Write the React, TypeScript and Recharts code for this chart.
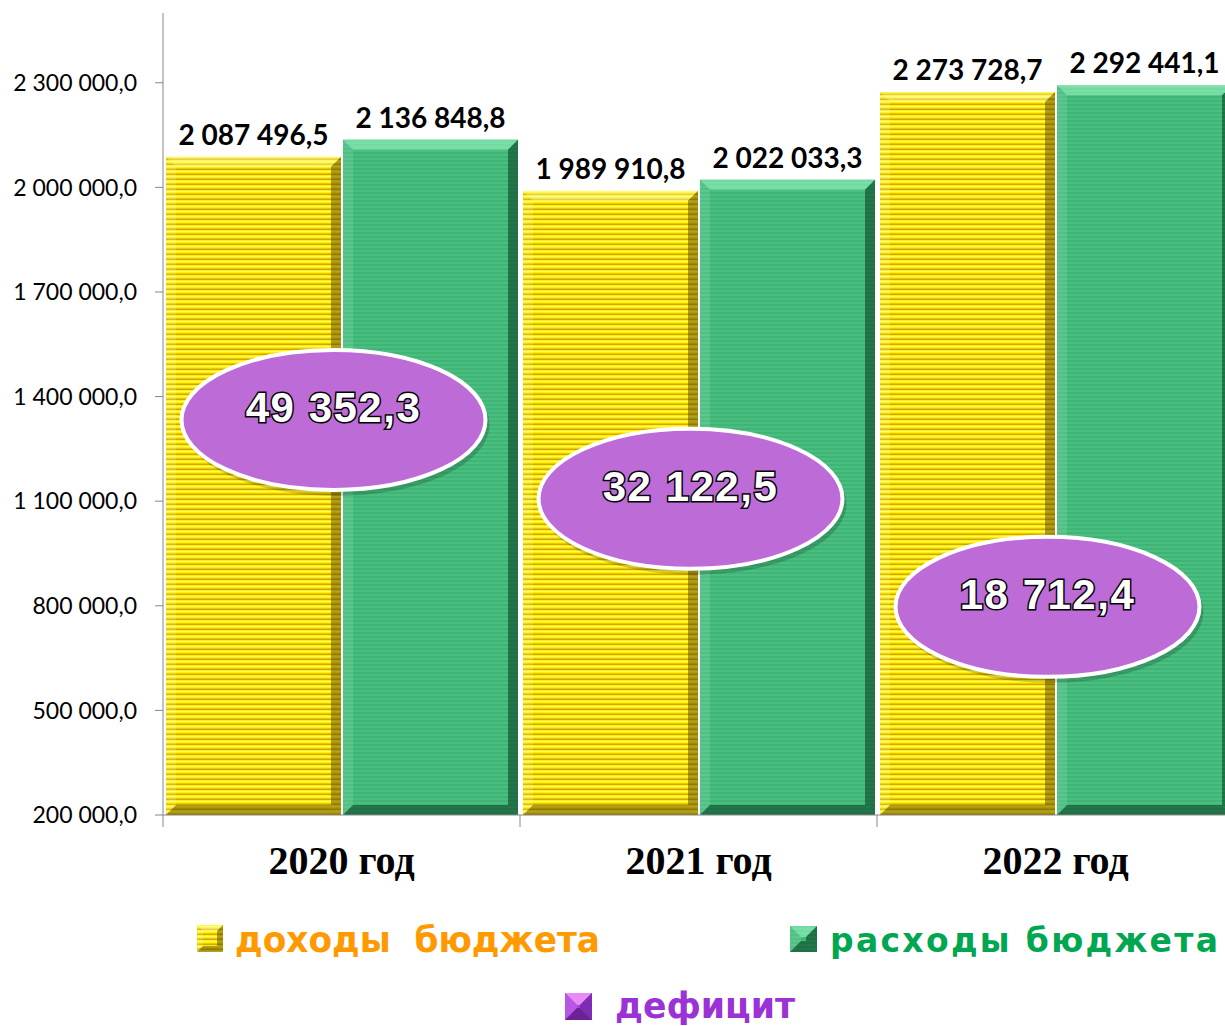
import React from 'react';
import { ComposedChart, Bar, Scatter, XAxis, YAxis, LabelList, Legend } from 'recharts';

const years = ['2020 год', '2021 год', '2022 год'];
const income = [2087496.5, 1989910.8, 2273728.7];
const expenses = [2136848.8, 2022033.3, 2292441.1];
const deficit = [49352.3, 32122.5, 18712.4];
// where the deficit callouts sit, in axis units
const deficitLabelAt = [1333000, 1107000, 797000];
const yTicks = [200000, 500000, 800000, 1100000, 1400000, 1700000, 2000000, 2300000];

const data = years.map((year, i) => ({
  year,
  income: income[i],
  expenses: expenses[i],
  deficit: deficit[i],
  deficitAt: deficitLabelAt[i],
}));

const CHART_W = 1234;
const CHART_H = 1026;
const Y_AXIS_W = 163;
const BAND = (CHART_W - Y_AXIS_W) / years.length;
const AXIS_GREY = '#868686';

const fmt = (v: number) => {
  const [int, dec] = v.toFixed(1).split('.');
  return int.replace(/\B(?=(\d{3})+(?!\d))/g, ' ') + ',' + dec;
};

const SKINS: Record<string, any> = {
  yellow: {
    fill: 'url(#stripesYellow)',
    top: 'rgba(255,255,170,0.45)',
    left: 'rgba(255,255,200,0.2)',
    right: 'rgba(90,70,0,0.5)',
    bottom: 'rgba(90,70,0,0.5)',
  },
  green: {
    fill: 'url(#stripesGreen)',
    top: 'rgba(170,255,205,0.5)',
    left: 'rgba(200,255,220,0.15)',
    right: 'rgba(0,45,20,0.5)',
    bottom: 'rgba(0,45,20,0.5)',
  },
  purple: {
    fill: '#A443DA',
    top: '#E68CF4',
    left: '#B857E6',
    right: '#7F2BB2',
    bottom: '#6C2297',
  },
};

const bevelBox = (x: number, y: number, w: number, h: number, b: number, kind: string) => {
  const s = SKINS[kind];
  return (
    <g>
      <rect x={x} y={y} width={w} height={h} fill={s.fill} />
      <polygon points={`${x},${y} ${x + w},${y} ${x + w - b},${y + b} ${x + b},${y + b}`} fill={s.top} />
      <polygon points={`${x},${y} ${x + b},${y + b} ${x + b},${y + h - b} ${x},${y + h}`} fill={s.left} />
      <polygon points={`${x + w},${y} ${x + w},${y + h} ${x + w - b},${y + h - b} ${x + w - b},${y + b}`} fill={s.right} />
      <polygon points={`${x},${y + h} ${x + w},${y + h} ${x + w - b},${y + h - b} ${x + b},${y + h - b}`} fill={s.bottom} />
    </g>
  );
};

const BevelBar = (props: any) => {
  const { x, y, width, height, kind } = props;
  if (!height || height <= 0) return null;
  const b = Math.min(10, width / 2, height / 2);
  return bevelBox(x, y, width, height, b, kind);
};

const DeficitBubble = (props: any) => {
  const { cx, cy, payload } = props;
  const ex = cx - 8;
  return (
    <g>
      <ellipse cx={ex + 3} cy={cy + 5} rx={153} ry={71} fill="rgba(0,0,0,0.18)" />
      <ellipse cx={ex} cy={cy} rx={152} ry={70} fill="#BD6BD7" stroke="#fff" strokeWidth={4} />
      <text
        x={ex}
        y={cy + 2}
        textAnchor="middle"
        fontFamily="'Liberation Sans', Arial, sans-serif"
        fontWeight="bold"
        fontSize={42}
        letterSpacing={1.5}
        fill="#fff"
        stroke="#000"
        strokeWidth={3}
        paintOrder="stroke"
      >
        {fmt(payload.deficit)}
      </text>
    </g>
  );
};

const YearTick = (props: any) => {
  const { x, y, payload, index } = props;
  return (
    <g>
      <line x1={x - BAND / 2} x2={x - BAND / 2} y1={y} y2={y + 12} stroke={AXIS_GREY} />
      {index === years.length - 1 && (
        <line x1={x + BAND / 2} x2={x + BAND / 2} y1={y} y2={y + 12} stroke={AXIS_GREY} />
      )}
      <text
        x={x}
        y={y + 59}
        textAnchor="middle"
        fontFamily="'Liberation Serif', 'Times New Roman', serif"
        fontWeight="bold"
        fontSize={40}
        fill="#000"
      >
        {payload.value}
      </text>
    </g>
  );
};

const legendFont = "'DejaVu Sans', Verdana, sans-serif";

const BudgetLegend = () => (
  <svg width={CHART_W} height={136} style={{ display: 'block' }}>
    {bevelBox(197, 35, 26, 27, 6, 'yellow')}
    <text x={235} y={62} fontFamily={legendFont} fontWeight="bold" fontSize={36} fill="#FF9900"
      textLength={365} lengthAdjust="spacingAndGlyphs" style={{ whiteSpace: 'pre' }}>
      доходы  бюджета
    </text>
    {bevelBox(790, 36, 27, 26, 11, 'green')}
    <text x={830} y={62} fontFamily={legendFont} fontWeight="bold" fontSize={33} fill="#00A650"
      textLength={388} lengthAdjust="spacing" style={{ whiteSpace: 'pre' }}>
      расходы бюджета
    </text>
    {bevelBox(565, 103, 27, 27, 12, 'purple')}
    <text x={615} y={128} fontFamily={legendFont} fontWeight="bold" fontSize={36} fill="#9B32D6"
      textLength={180} lengthAdjust="spacingAndGlyphs">
      дефицит
    </text>
  </svg>
);

export default function App() {
  return (
    <div style={{ width: 1225, height: CHART_H, overflow: 'hidden', position: 'relative', background: '#fff' }}>
      <style>{'body{margin:0;overflow:hidden}'}</style>
      <svg width={0} height={0} style={{ position: 'absolute' }}>
        <defs>
          <pattern id="stripesYellow" width={8} height={5} patternUnits="userSpaceOnUse">
            <rect width={8} height={5} fill="#FFEE00" />
            <rect y={1} width={8} height={1} fill="#FFF86A" />
            <rect y={3.6} width={8} height={1.2} fill="#C39600" />
          </pattern>
          <pattern id="stripesGreen" width={8} height={4} patternUnits="userSpaceOnUse">
            <rect width={8} height={4} fill="#3DB575" />
            <rect y={2.5} width={8} height={1} fill="#58C68A" />
          </pattern>
        </defs>
      </svg>
      <ComposedChart
        width={CHART_W}
        height={CHART_H}
        data={data}
        margin={{ top: 13, right: 0, left: 0, bottom: 0 }}
        barCategoryGap={3}
        barGap={2}
      >
        <XAxis
          dataKey="year"
          height={75}
          axisLine={{ stroke: AXIS_GREY }}
          tickLine={false}
          tickSize={0}
          tickMargin={0}
          tick={<YearTick />}
          interval={0}
        />
        <YAxis
          width={Y_AXIS_W}
          domain={[200000, 2500000]}
          ticks={yTicks}
          allowDataOverflow
          tickFormatter={fmt}
          axisLine={{ stroke: AXIS_GREY }}
          tickLine={{ stroke: AXIS_GREY }}
          tickSize={8}
          tickMargin={18}
          tick={{ fill: '#000', fontSize: 23, fontFamily: 'Lato, sans-serif' }}
        />
        <Legend verticalAlign="bottom" height={136} content={<BudgetLegend />}
          wrapperStyle={{ left: 0, bottom: 0, width: CHART_W, height: 136 }} />
        <Bar dataKey="income" name="доходы бюджета" isAnimationActive={false}
          shape={(p: any) => <BevelBar {...p} kind="yellow" />}>
          <LabelList dataKey="income" position="top" offset={12} formatter={(v: any) => fmt(Number(v))}
            style={{ fill: '#000', fontSize: 28, fontWeight: 'bold', fontFamily: 'Lato, sans-serif' }} />
        </Bar>
        <Bar dataKey="expenses" name="расходы бюджета" isAnimationActive={false}
          shape={(p: any) => <BevelBar {...p} kind="green" />}>
          <LabelList dataKey="expenses" position="top" offset={12} formatter={(v: any) => fmt(Number(v))}
            style={{ fill: '#000', fontSize: 28, fontWeight: 'bold', fontFamily: 'Lato, sans-serif' }} />
        </Bar>
        <Scatter dataKey="deficitAt" name="дефицит" isAnimationActive={false} shape={<DeficitBubble />} />
      </ComposedChart>
    </div>
  );
}
